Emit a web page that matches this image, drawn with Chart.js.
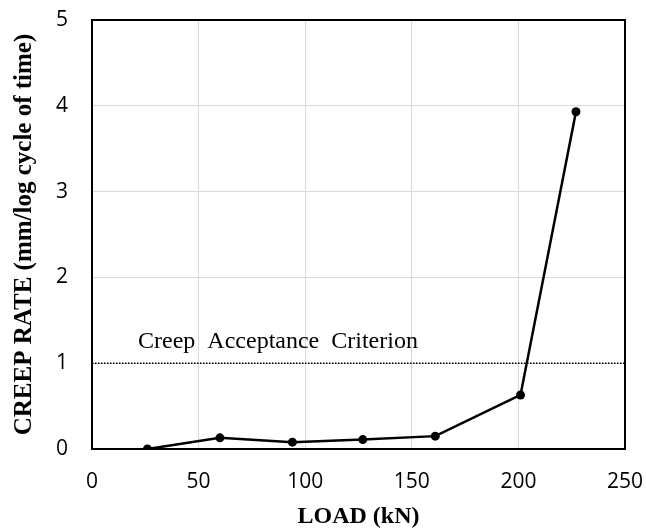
<!DOCTYPE html>
<html>
<head>
<meta charset="utf-8">
<script src="https://cdn.jsdelivr.net/npm/chart.js@4/dist/chart.umd.min.js"></script>
<style>
  html, body { margin: 0; padding: 0; background: #fff; }
  canvas { display: block; }
</style>
</head>
<body>
<canvas id="myChart" width="646" height="531"></canvas>
<script>
const loads = [26, 60, 94, 127, 161, 201, 227];
const creepRates = [0, 0.13, 0.08, 0.11, 0.15, 0.63, 3.93];

const criterionLoads = [0, 250];
const criterionRates = [1, 1];
const criterionLabel = 'Creep  Acceptance  Criterion';

const xTicks = [0, 50, 100, 150, 200, 250];
const yTicks = [0, 1, 2, 3, 4, 5];

function toPoints(xs, ys) {
    return xs.map((x, i) => ({ x: x, y: ys[i] }));
}

// frame round the plot area + the criterion label
const framePlugin = {
    id: 'frame',
    afterDatasetsDraw(chart) {
        const { ctx, chartArea, scales } = chart;
        ctx.save();
        ctx.font = '24px "Liberation Serif", "Times New Roman", serif';
        ctx.fillStyle = '#000';
        ctx.textBaseline = 'alphabetic';
        ctx.fillText(criterionLabel, scales.x.getPixelForValue(21.6), scales.y.getPixelForValue(1.18));
        ctx.strokeStyle = '#000';
        ctx.lineWidth = 2;
        ctx.strokeRect(chartArea.left, chartArea.top, chartArea.right - chartArea.left, chartArea.bottom - chartArea.top);
        ctx.restore();
    }
};

const ctx = document.getElementById('myChart').getContext('2d');
const myChart = new Chart(ctx, {
    type: 'scatter',
    data: {
        datasets: [{
            data: toPoints(loads, creepRates),
            showLine: true,
            borderColor: '#000',
            backgroundColor: '#000',
            borderWidth: 2.5,
            pointRadius: 4.5,
            pointBorderWidth: 0
        }, {
            data: toPoints(criterionLoads, criterionRates),
            showLine: true,
            borderColor: '#000',
            borderWidth: 1.5,
            borderDash: [1.5, 1.5],
            pointRadius: 0
        }]
    },
    options: {
        responsive: false,
        animation: false,
        layout: { padding: { top: 20, right: 21, left: 0, bottom: 0 } },
        plugins: {
            legend: { display: false },
            tooltip: { enabled: false }
        },
        scales: {
            x: {
                type: 'linear',
                min: 0,
                max: 250,
                afterFit: scale => {
                    scale.height = 82;
                    scale.paddingLeft = 0;
                    scale.paddingRight = 0;
                },
                afterBuildTicks: scale => { scale.ticks = xTicks.map(v => ({ value: v })); },
                grid: { color: '#d9d9d9', drawTicks: false },
                border: { display: false },
                ticks: {
                    padding: 20,
                    color: '#000',
                    font: { family: '"Open Sans", sans-serif', size: 21 }
                },
                title: {
                    display: true,
                    text: 'LOAD (kN)',
                    color: '#000',
                    padding: { top: 0, bottom: 0 },
                    font: { family: '"Liberation Serif", "Times New Roman", serif', size: 24, weight: 'bold' }
                }
            },
            y: {
                type: 'linear',
                min: 0,
                max: 5,
                afterFit: scale => {
                    scale.width = 92;
                    scale.paddingTop = 0;
                    scale.paddingBottom = 0;
                },
                afterBuildTicks: scale => { scale.ticks = yTicks.map(v => ({ value: v })); },
                grid: { color: '#d9d9d9', drawTicks: false },
                border: { display: false },
                ticks: {
                    padding: 24,
                    color: '#000',
                    font: { family: '"Open Sans", sans-serif', size: 21 }
                },
                title: {
                    display: true,
                    text: 'CREEP RATE (mm/log cycle of time)',
                    color: '#000',
                    padding: { top: 10, bottom: 0 },
                    font: { family: '"Liberation Serif", "Times New Roman", serif', size: 25, weight: 'bold' }
                }
            }
        }
    },
    plugins: [framePlugin]
});
</script>
</body>
</html>
